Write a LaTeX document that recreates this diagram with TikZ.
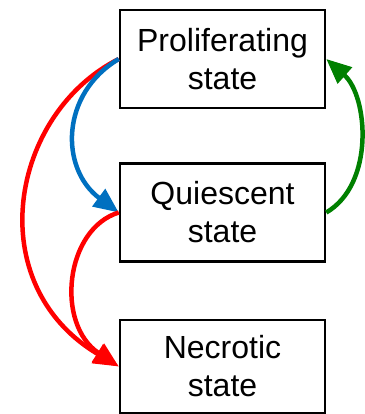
\documentclass[tikz,border=0pt]{standalone}
\usepackage{fontspec}
\setmainfont{Liberation Sans}
\usepackage{tikz}
\usetikzlibrary{arrows.meta}
\usepackage{xcolor}
\definecolor{StateRed}{HTML}{FF0000}
\definecolor{StateBlue}{HTML}{0070C0}
\definecolor{StateGreen}{HTML}{008000}

\begin{document}
\begin{tikzpicture}[x=1pt,y=1pt,
  statebox/.style={draw,line width=2.5pt,minimum width=205pt,minimum height=98pt,
    align=center,font=\fontsize{32}{38}\selectfont},
  trans/.style={line width=4.5pt,-{Triangle[length=25pt,width=21pt]}}]
  \useasboundingbox (0,0) rectangle (364,414);
  \node[statebox] (prolif) at (222.5,355) {Proliferating\\state};
  \node[statebox] (quies) at (222.5,201.5) {Quiescent\\state};
  \node[statebox,minimum height=93pt] (necro) at (222.5,47.5) {Necrotic\\state};
  \draw[trans,StateRed] (prolif.west) .. controls (10,300) and (-20,130) .. (necro.west);
  \draw[trans,StateBlue] (prolif.west) .. controls (60,320) and (60,245) .. (quies.west);
  \draw[trans,StateRed] (quies.west) .. controls (65,185) and (55,90) .. (necro.west);
  \draw[trans,StateGreen] (quies.east) .. controls (375,230) and (368,318) .. (prolif.east);
\end{tikzpicture}
\end{document}
